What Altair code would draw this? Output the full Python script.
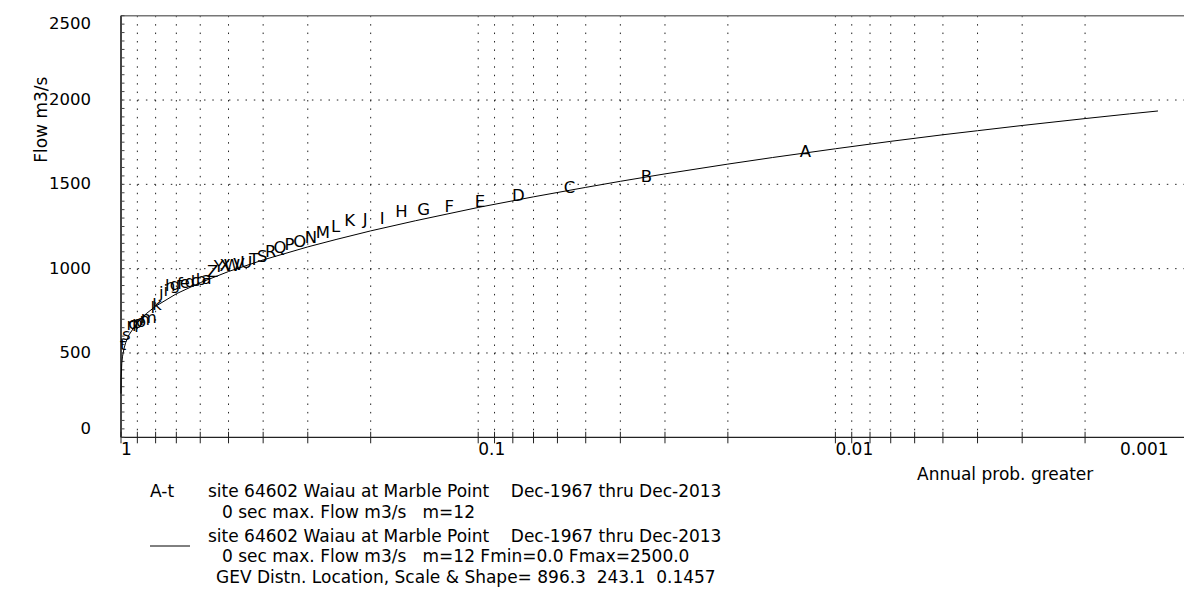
import altair as alt
import pandas as pd

FONT = "DejaVu Sans"

# ---- data ----
curve_p = [0.9999, 0.999, 0.995, 0.99, 0.98, 0.97, 0.95, 0.9, 0.85, 0.8, 0.7, 0.6,
           0.5, 0.4, 0.3, 0.25, 0.2, 0.15, 0.1, 0.07, 0.05, 0.04, 0.03, 0.02, 0.015,
           0.01, 0.007, 0.005, 0.004, 0.003, 0.002, 0.0015, 0.00125]
curve_flow = [259, 354, 438, 481, 529, 562, 607, 681, 733, 777, 851, 917,
              983, 1052, 1129, 1173, 1224, 1284, 1363, 1426, 1482, 1518, 1562, 1620, 1659,
              1711, 1755, 1794, 1818, 1849, 1890, 1918, 1935]

letters = list("ABCDEFGHIJKLMNOPQRSTUVWXYZabcdefghijklmnopqrst")
plot_p = [0.01214, 0.03383, 0.05551, 0.07719, 0.09887, 0.12056, 0.14224, 0.16392,
          0.18560, 0.20729, 0.22897, 0.25065, 0.27233, 0.29402, 0.31570, 0.33738,
          0.35906, 0.38075, 0.40243, 0.42411, 0.44579, 0.46748, 0.48916, 0.51084,
          0.53252, 0.55421, 0.57589, 0.59757, 0.61925, 0.64094, 0.66262, 0.68430,
          0.70598, 0.72767, 0.74935, 0.77103, 0.79271, 0.81440, 0.83608, 0.85776,
          0.87944, 0.90113, 0.92281, 0.94449, 0.96617, 0.98786]
plot_flow = [1692, 1542, 1476, 1433, 1394, 1367, 1348, 1338, 1296, 1287, 1285,
             1249, 1213, 1182, 1158, 1140, 1122, 1099, 1069, 1051, 1034, 1022, 1016,
             1014, 1010, 980, 939, 933, 927, 921, 915, 909, 903, 900, 868, 856, 785,
             767, 707, 696, 684, 678, 672, 666, 607, 548]

x_tick_values = [1, 0.9, 0.8, 0.7, 0.6, 0.5, 0.4, 0.3, 0.2,
                 0.1, 0.09, 0.08, 0.07, 0.06, 0.05, 0.04, 0.03, 0.02,
                 0.01, 0.009, 0.008, 0.007, 0.006, 0.005, 0.004, 0.003, 0.002]
x_label_values = [1, 0.1, 0.01]
x_label_text = ["1", "0.1", "0.01"]
x_last_label = "0.001"
y_label_values = [0, 500, 1000, 1500, 2000, 2500]
y_label_text = ["0", "500", "1000", "1500", "2000", "2500"]
y_grid_values = [500, 1000, 1500, 2000]
y_minor_values = list(range(0, 2501, 50))

NB = "\u00a0"
legend_lines = [
    "A-t",
    "site 64602 Waiau at Marble Point" + NB * 4 + "Dec-1967 thru Dec-2013",
    "0 sec max. Flow m3/s" + NB * 3 + "m=12",
    "site 64602 Waiau at Marble Point" + NB * 4 + "Dec-1967 thru Dec-2013",
    "0 sec max. Flow m3/s" + NB * 3 + "m=12 Fmin=0.0 Fmax=2500.0",
    "GEV Distn. Location, Scale & Shape= 896.3" + NB * 2 + "243.1" + NB * 2 + "0.1457",
]
x_title = "Annual prob. greater"
y_title = "Flow m3/s"

# ---- layout ----
W = 1063
H = 421.6
LEFT = 121
TOP = 15.7
P_MIN = 0.001057

xscale = alt.Scale(type="log", domain=[P_MIN, 1], reverse=True, nice=False)
yscale = alt.Scale(domain=[0, 2500], nice=False, zero=False)


def X(field="p"):
    return alt.X(field + ":Q", scale=xscale, axis=None)


def Y(field="flow"):
    return alt.Y(field + ":Q", scale=yscale, axis=None)


curve_df = pd.DataFrame({"p": curve_p, "flow": curve_flow})
points_df = pd.DataFrame({"p": plot_p, "flow": plot_flow, "letter": letters})
xt_df = pd.DataFrame({"p": x_tick_values})
yt_df = pd.DataFrame({"flow": y_minor_values})
ygrid_df = pd.DataFrame({"flow": y_grid_values})
xlab_df = pd.DataFrame({"p": x_label_values, "t": x_label_text})
ylab_df = pd.DataFrame({"flow": y_label_values, "t": y_label_text})
one = pd.DataFrame({"a": [0]})

GRID = "#222"

vgrid = alt.Chart(xt_df).mark_rule(color=GRID, strokeWidth=1, strokeDash=[1.5, 6.93]).encode(
    x=X(), y=alt.value(0), y2=alt.value(H)
)
hgrid = alt.Chart(ygrid_df).mark_rule(color=GRID, strokeWidth=1, strokeDash=[1.5, 6.8]).encode(
    y=Y(), x=alt.value(0), x2=alt.value(W)
)
top_border = alt.Chart(one).mark_rule(color="#777", strokeWidth=1.6).encode(
    x=alt.value(0), x2=alt.value(W), y=alt.value(0)
)
x_domain = alt.Chart(one).mark_rule(color="#222", strokeWidth=1.3).encode(
    x=alt.value(0), x2=alt.value(W), y=alt.value(H)
)
y_domain = alt.Chart(one).mark_rule(color="#444", strokeWidth=2).encode(
    x=alt.value(0), y=alt.value(0), y2=alt.value(H)
)
xticks = alt.Chart(xt_df).mark_rule(color="#222", strokeWidth=1).encode(
    x=X(), y=alt.value(H - 5.5), y2=alt.value(H + 6)
)
yticks = alt.Chart(yt_df).mark_rule(color="#444", strokeWidth=1).encode(
    y=Y(), x=alt.value(0), x2=alt.value(3.5)
)

curve = alt.Chart(curve_df).mark_line(color="black", strokeWidth=1).encode(
    x=X(), y=Y(), order=alt.Order("p:Q", sort="descending")
)

pts = alt.Chart(points_df).mark_text(
    font=FONT, fontSize=16.5, color="black", align="center", baseline="middle"
).encode(x=X(), y=Y(), text="letter:N")

xlabels = alt.Chart(xlab_df).mark_text(
    font=FONT, fontSize=17, color="black", align="left", baseline="top"
).encode(x=X(), y=alt.value(H + 5), text="t:N")
last_label = alt.Chart(pd.DataFrame({"t": [x_last_label]})).mark_text(
    font=FONT, fontSize=17, color="black", align="left", baseline="top"
).encode(x=alt.value(999), y=alt.value(H + 5), text="t:N")


def ylab(filter_expr, baseline):
    return alt.Chart(ylab_df).transform_filter(filter_expr).mark_text(
        font=FONT, fontSize=16.5, color="black", align="right", baseline=baseline
    ).encode(y=Y(), x=alt.value(-30), text="t:N")


ylabels = [
    ylab("datum.flow == 2500", "top"),
    ylab("datum.flow == 0", "bottom"),
    ylab("datum.flow > 0 && datum.flow < 2500", "middle"),
]

xtitle = alt.Chart(pd.DataFrame({"t": [x_title]})).mark_text(
    font=FONT, fontSize=17, color="black", align="left", baseline="middle"
).encode(x=alt.value(796), y=alt.value(H + 38), text="t:N")
ytitle = alt.Chart(pd.DataFrame({"t": [y_title]})).mark_text(
    font=FONT, fontSize=17, color="black", align="center", baseline="middle", angle=270
).encode(x=alt.value(-79), y=alt.value(104), text="t:N")


def txt(s, x, y, size=17):
    return alt.Chart(pd.DataFrame({"t": [s]})).mark_text(
        font=FONT, fontSize=size, color="black", align="left", baseline="middle"
    ).encode(x=alt.value(x), y=alt.value(y), text="t:N")


leg = [
    txt(legend_lines[0], 150 - LEFT, 492 - TOP),
    txt(legend_lines[1], 208 - LEFT, 492 - TOP),
    txt(legend_lines[2], 222 - LEFT, 513 - TOP),
    txt(legend_lines[3], 208 - LEFT, 537 - TOP),
    txt(legend_lines[4], 222 - LEFT, 557 - TOP),
    txt(legend_lines[5], 216 - LEFT, 578 - TOP),
]
leg_line = alt.Chart(one).mark_rule(color="black", strokeWidth=1).encode(
    x=alt.value(150 - LEFT), x2=alt.value(190 - LEFT), y=alt.value(546 - TOP)
)

chart = alt.layer(
    vgrid, hgrid, top_border, x_domain, y_domain, xticks, yticks,
    curve, pts, xlabels, last_label, *ylabels, xtitle, ytitle, leg_line, *leg
).properties(
    width=W, height=H,
    padding={"left": LEFT, "top": TOP, "right": 0, "bottom": 590 - TOP - H},
    autosize=alt.AutoSizeParams(type="none"),
    background="white",
).configure_view(stroke=None)

chart.save("out.html", embed_options={"renderer": "svg", "actions": False})
